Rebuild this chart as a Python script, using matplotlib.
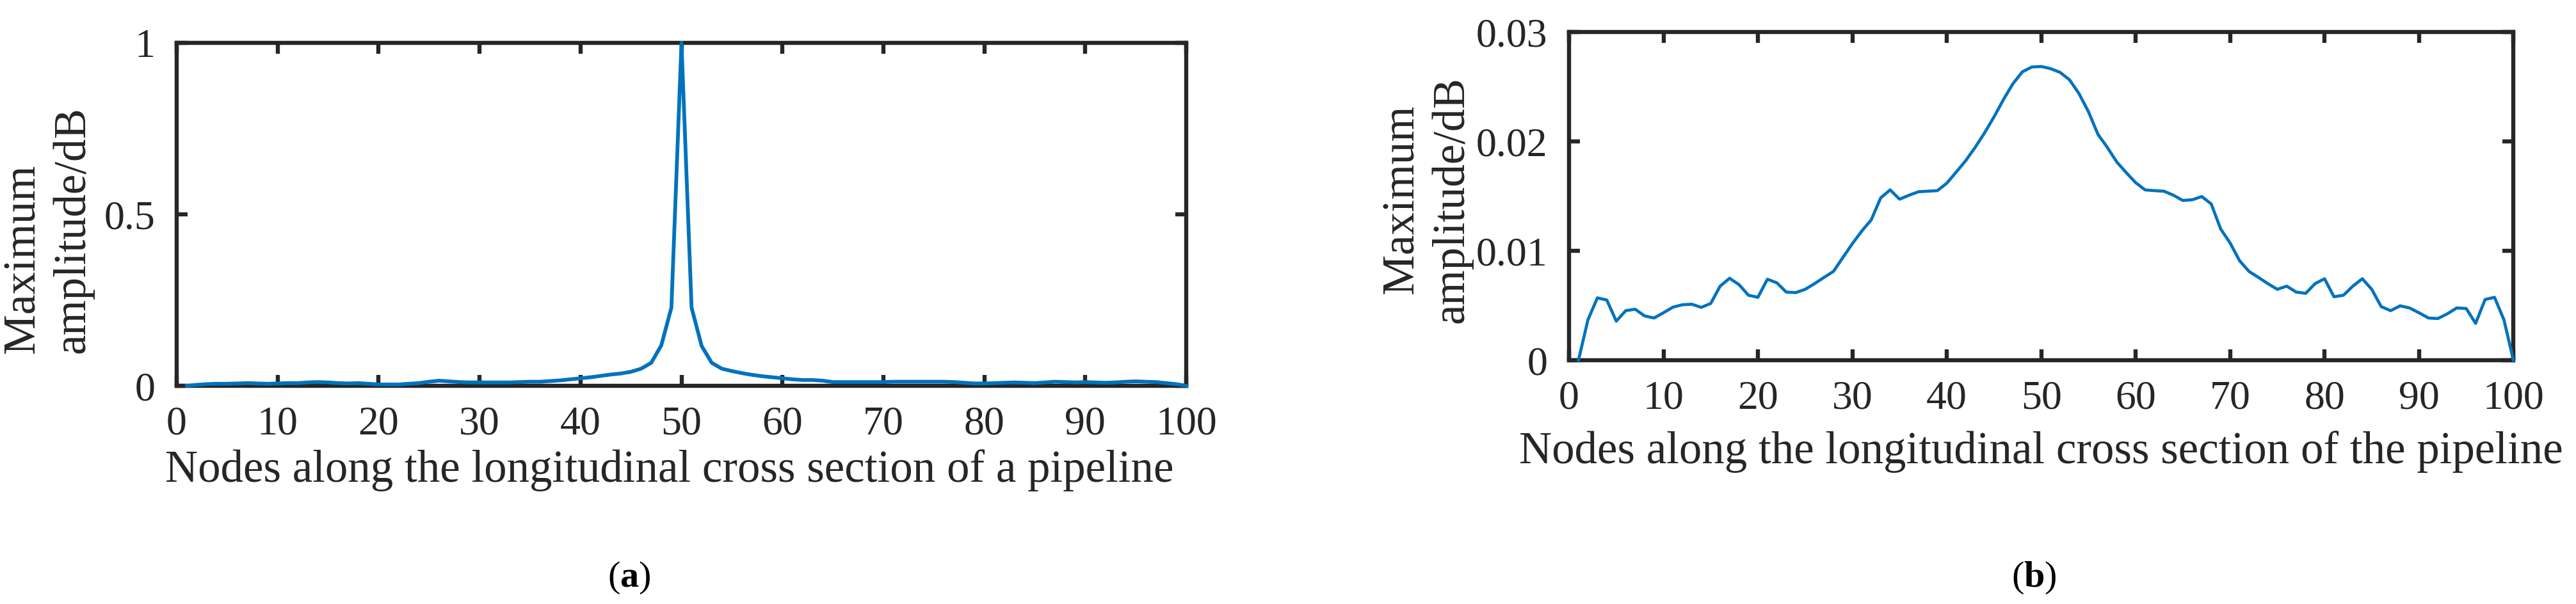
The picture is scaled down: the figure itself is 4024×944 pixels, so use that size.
import numpy as np
import matplotlib
matplotlib.use('Agg')
import matplotlib.pyplot as plt

plt.rcParams['font.family'] = ['Liberation Serif', 'DejaVu Serif']
plt.rcParams['mathtext.fontset'] = 'custom'
plt.rcParams['mathtext.rm'] = 'Liberation Serif'
plt.rcParams['mathtext.bf'] = 'Liberation Serif:bold'

# node index along the pipeline
nodes = np.arange(1, 101)

# (a) maximum amplitude, defect at a pipeline
amp_a = [0.000, 0.003, 0.005, 0.006, 0.006, 0.007, 0.008, 0.007, 0.006, 0.007,
         0.008, 0.008, 0.010, 0.011, 0.010, 0.008, 0.007, 0.008, 0.006, 0.004,
         0.004, 0.004, 0.006, 0.008, 0.012, 0.015, 0.013, 0.011, 0.010, 0.010,
         0.010, 0.010, 0.010, 0.011, 0.012, 0.012, 0.014, 0.016, 0.019, 0.022,
         0.025, 0.029, 0.033, 0.036, 0.041, 0.050, 0.067, 0.118, 0.228, 1.000,
         0.228, 0.116, 0.067, 0.050, 0.043, 0.037, 0.032, 0.028, 0.025, 0.022,
         0.019, 0.017, 0.017, 0.015, 0.011, 0.011, 0.011, 0.011, 0.011, 0.011,
         0.012, 0.012, 0.012, 0.012, 0.012, 0.012, 0.011, 0.009, 0.007, 0.007,
         0.008, 0.009, 0.010, 0.009, 0.008, 0.010, 0.012, 0.011, 0.010, 0.011,
         0.010, 0.009, 0.010, 0.012, 0.013, 0.012, 0.011, 0.008, 0.005, 0.000]

# (b) maximum amplitude, the pipeline
amp_b = [0.0, 0.00369, 0.0057, 0.0055, 0.00357, 0.00453, 0.00466, 0.00405, 0.00386, 0.00434,
         0.00485, 0.00507, 0.00512, 0.00483, 0.00519, 0.00677, 0.00749, 0.00691, 0.00594, 0.00575,
         0.0074, 0.00708, 0.00623, 0.00618, 0.00648, 0.0070, 0.00757, 0.00812, 0.00939, 0.01065,
         0.01181, 0.01283, 0.01484, 0.01557, 0.01472, 0.01508, 0.0154, 0.01545, 0.0155, 0.01618,
         0.0172, 0.01824, 0.01945, 0.02078, 0.02224, 0.02382, 0.02527, 0.02636, 0.0268, 0.02685,
         0.02665, 0.02631, 0.02563, 0.02437, 0.02272, 0.02066, 0.01945, 0.01812, 0.01715, 0.01623,
         0.01557, 0.0155, 0.01545, 0.01508, 0.0146, 0.01467, 0.01496, 0.01429, 0.0120, 0.01072,
         0.0091, 0.00812, 0.00757, 0.0070, 0.00648, 0.00677, 0.00623, 0.00611, 0.0070, 0.00745,
         0.0058, 0.00594, 0.00677, 0.00745, 0.00648, 0.0049, 0.00453, 0.00497, 0.00478, 0.00434,
         0.00386, 0.00381, 0.00424, 0.00478, 0.00473, 0.00337, 0.00555, 0.00575, 0.00369, 0.0]

xticks = np.arange(0, 101, 10)
yticks_a = [0, 0.5, 1]
ytick_labels_a = ['0', '0.5', '1']
yticks_b = [0, 0.01, 0.02, 0.03]
ytick_labels_b = ['0', '0.01', '0.02', '0.03']

dark = '#262626'
blue = '#0072BD'
tick_fs = 46
xlab_fs = 51
ylab_fs = 51

fig = plt.figure(figsize=(40.24, 9.44), dpi=100)
ax1 = fig.add_axes([0.0686, 0.3612, 0.3919, 0.5678])
ax2 = fig.add_axes([0.6091, 0.4036, 0.3666, 0.5434])


def style_axes(ax, yt, ytl):
    ax.set_xlim(0, 100)
    ax.set_xticks(xticks)
    ax.set_xticklabels([str(t) for t in xticks])
    ax.set_ylim(yt[0], yt[-1])
    ax.set_yticks(yt)
    ax.set_yticklabels(ytl)
    for s in ax.spines.values():
        s.set_linewidth(4.6)
        s.set_color(dark)
    ax.tick_params(direction='in', length=12, width=4.6, color=dark,
                   labelcolor=dark, labelsize=tick_fs, top=True, right=True)
    ax.tick_params(axis='x', pad=23)
    ax.tick_params(axis='y', pad=24)


ax1.plot(nodes, amp_a, color=blue, lw=4.2, clip_on=False, zorder=3)
style_axes(ax1, yticks_a, ytick_labels_a)
ax1.set_xlabel('Nodes along the longitudinal cross section of a pipeline',
               fontsize=xlab_fs, color=dark)
ax1.xaxis.set_label_coords(0.488, -0.185)
ax1.text(-0.082, 0.095, 'Maximum\namplitude/dB', transform=ax1.transAxes,
         rotation=90, rotation_mode='anchor', ha='left', va='bottom',
         multialignment='left', fontsize=ylab_fs, color=dark, linespacing=1.25)

ax2.plot(nodes, amp_b, color=blue, lw=3.4, clip_on=False, zorder=3)
style_axes(ax2, yticks_b, ytick_labels_b)
ax2.set_xlabel('Nodes along the longitudinal cross section of the pipeline',
               fontsize=xlab_fs, color=dark)
ax2.xaxis.set_label_coords(0.5, -0.215)
ax2.text(-0.102, 0.49, 'Maximum\namplitude/dB', transform=ax2.transAxes,
         rotation=90, rotation_mode='anchor', ha='center', va='bottom',
         multialignment='center', fontsize=ylab_fs, color=dark, linespacing=1.25)

fig.text(0.2443, 0.0434, r'($\mathbf{a}$)', ha='center', va='center',
         fontsize=42, color='black')
fig.text(0.7895, 0.0434, r'($\mathbf{b}$)', ha='center', va='center',
         fontsize=42, color='black')

fig.savefig('out.png', dpi=100, facecolor='white')
